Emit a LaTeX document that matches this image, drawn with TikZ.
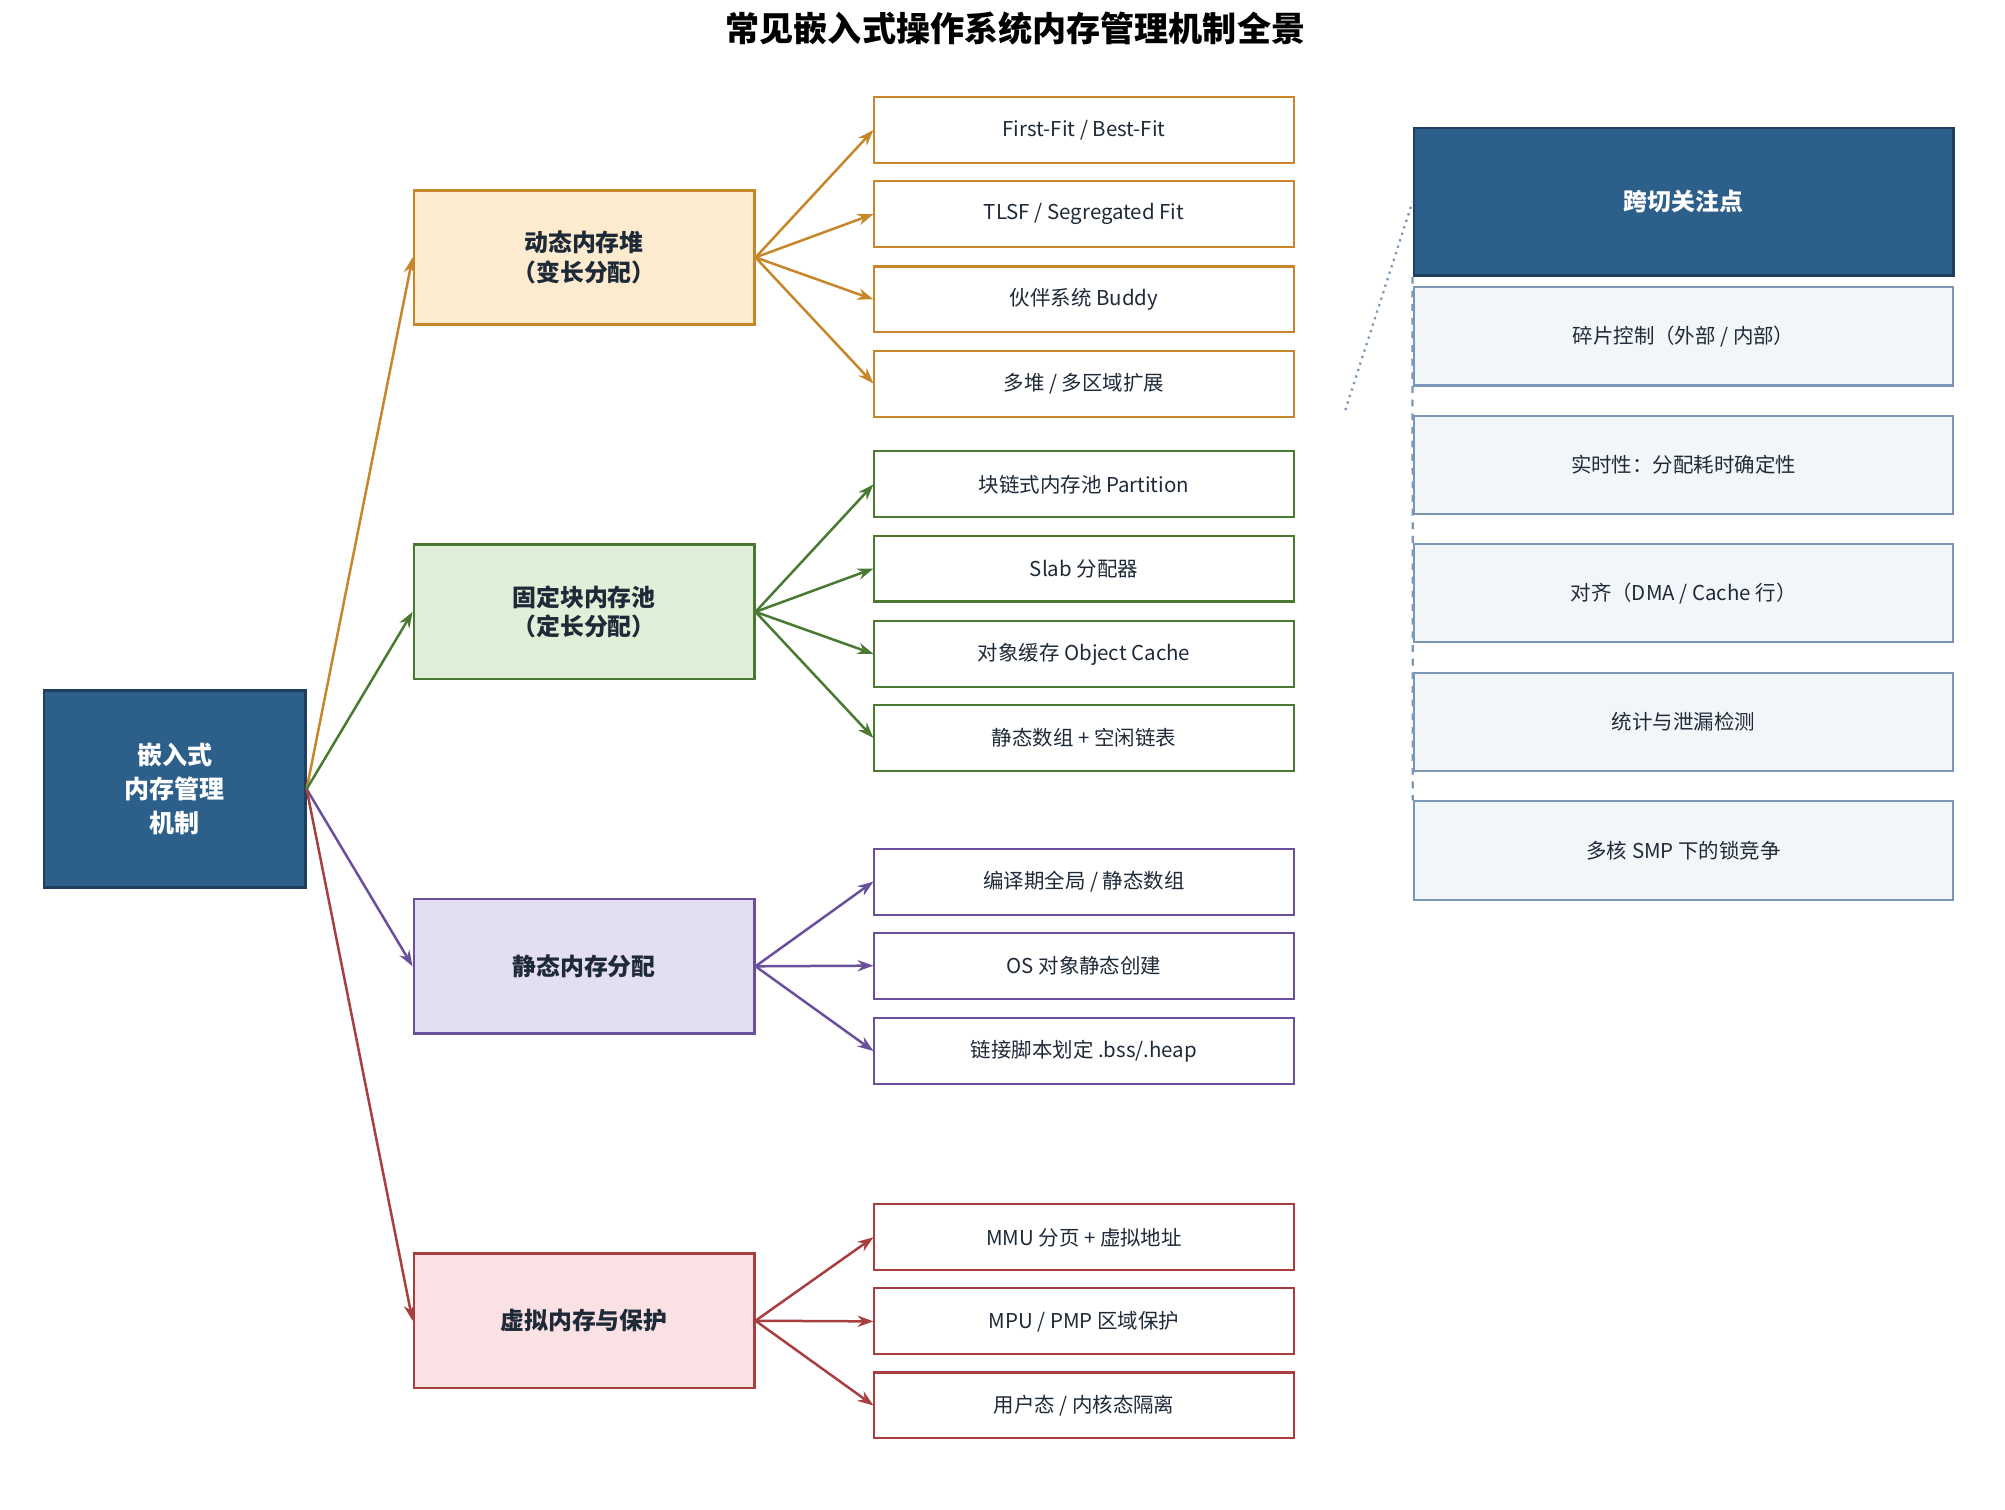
\documentclass[tikz,border=0pt]{standalone}
\usepackage{fontspec}
\setmainfont{Noto Sans CJK SC}
\usetikzlibrary{arrows.meta}
\definecolor{navy}{HTML}{2D5F8B}
\definecolor{navyd}{HTML}{1E3F5E}
\definecolor{orF}{HTML}{FCEBCF}\definecolor{orB}{HTML}{C8862A}
\definecolor{grF}{HTML}{DFEFD8}\definecolor{grB}{HTML}{4A7A32}
\definecolor{puF}{HTML}{E4DFF0}\definecolor{puB}{HTML}{6A4F9A}
\definecolor{reF}{HTML}{FAE1E3}\definecolor{reB}{HTML}{A83E3E}
\definecolor{ltF}{HTML}{F3F6F9}\definecolor{ltB}{HTML}{7A97B8}
\definecolor{txt}{HTML}{1F2A38}
\begin{document}
\begin{tikzpicture}[x=0.02cm,y=-0.02cm,
 cat/.style={draw=#1,line width=1.2pt,minimum width=263*0.02cm,minimum height=104*0.02cm,font=\bfseries\fontsize{10.5}{13}\selectfont,text=txt,align=center},
 leaf/.style={draw=#1,line width=0.9pt,fill=white,minimum width=324*0.02cm,minimum height=51*0.02cm,font=\fontsize{9}{11}\selectfont,text=txt},
 side/.style={draw=ltB,line width=0.9pt,fill=ltF,minimum width=417*0.02cm,minimum height=76*0.02cm,font=\fontsize{9}{11}\selectfont,text=txt},
 arr/.style={draw=#1,line width=1.1pt,-{Stealth[length=7pt,width=5pt]}}]
\useasboundingbox (0,0) rectangle (1550,1167);
\node[font=\bfseries\fontsize{15}{18}\selectfont] (title) at (785,22) {常见嵌入式操作系统内存管理机制全景};
\node[draw=navyd,fill=navy,line width=1.2pt,minimum width=202*0.02cm,minimum height=152*0.02cm,text=white,font=\bfseries\fontsize{11}{15}\selectfont,align=center] (root) at (135,610) {嵌入式\\内存管理\\机制};
\node[cat=orB,fill=orF] (c1) at (451.5,199) {动态内存堆\\（变长分配）};
\node[cat=grB,fill=grF] (c2) at (451.5,473) {固定块内存池\\（定长分配）};
\node[cat=puB,fill=puF] (c3) at (451.5,747) {静态内存分配};
\node[cat=reB,fill=reF] (c4) at (451.5,1021) {虚拟内存与保护};
\foreach \c/\col in {c1/orB,c2/grB,c3/puB,c4/reB}
  \draw[arr=\col] (root.east) -- (\c.west);
\foreach \n/\y/\t in {a1/100.5/{First-Fit / Best-Fit},a2/165.5/{TLSF / Segregated Fit},a3/231.5/{伙伴系统 Buddy},a4/296.5/{多堆 / 多区域扩展}}{
  \node[leaf=orB] (\n) at (838,\y) {\t}; \draw[arr=orB] (c1.east) -- (\n.west);}
\foreach \n/\y/\t in {b1/374.5/{块链式内存池 Partition},b2/439.5/{Slab 分配器},b3/505.5/{对象缓存 Object Cache},b4/570.5/{静态数组 + 空闲链表}}{
  \node[leaf=grB] (\n) at (838,\y) {\t}; \draw[arr=grB] (c2.east) -- (\n.west);}
\foreach \n/\y/\t in {d1/681.5/{编译期全局 / 静态数组},d2/746.5/{OS 对象静态创建},d3/812.5/{链接脚本划定 .bss/.heap}}{
  \node[leaf=puB] (\n) at (838,\y) {\t}; \draw[arr=puB] (c3.east) -- (\n.west);}
\foreach \n/\y/\t in {e1/956.5/{MMU 分页 + 虚拟地址},e2/1021.5/{MPU / PMP 区域保护},e3/1086.5/{用户态 / 内核态隔离}}{
  \node[leaf=reB] (\n) at (838,\y) {\t}; \draw[arr=reB] (c4.east) -- (\n.west);}
\node[draw=navyd,fill=navy,line width=1.2pt,minimum width=417*0.02cm,minimum height=114*0.02cm,text=white,font=\bfseries\fontsize{10.5}{13}\selectfont] (h) at (1301.5,156) {跨切关注点};
\node[side] (s1) at (1301.5,260) {碎片控制（外部 / 内部）};
\node[side] (s2) at (1301.5,359.5) {实时性：分配耗时确定性};
\node[side] (s3) at (1301.5,458.5) {对齐（DMA / Cache 行）};
\node[side] (s4) at (1301.5,558) {统计与泄漏检测};
\node[side] (s5) at (1301.5,657.5) {多核 SMP 下的锁竞争};
\coordinate (dd) at (1040,317);
\draw[ltB,dotted,line width=1pt] (dd) -- (h.west);
\draw[ltB,dashed,line width=1pt] (h.south west) -- (s5.north west);
\end{tikzpicture}
\end{document}
